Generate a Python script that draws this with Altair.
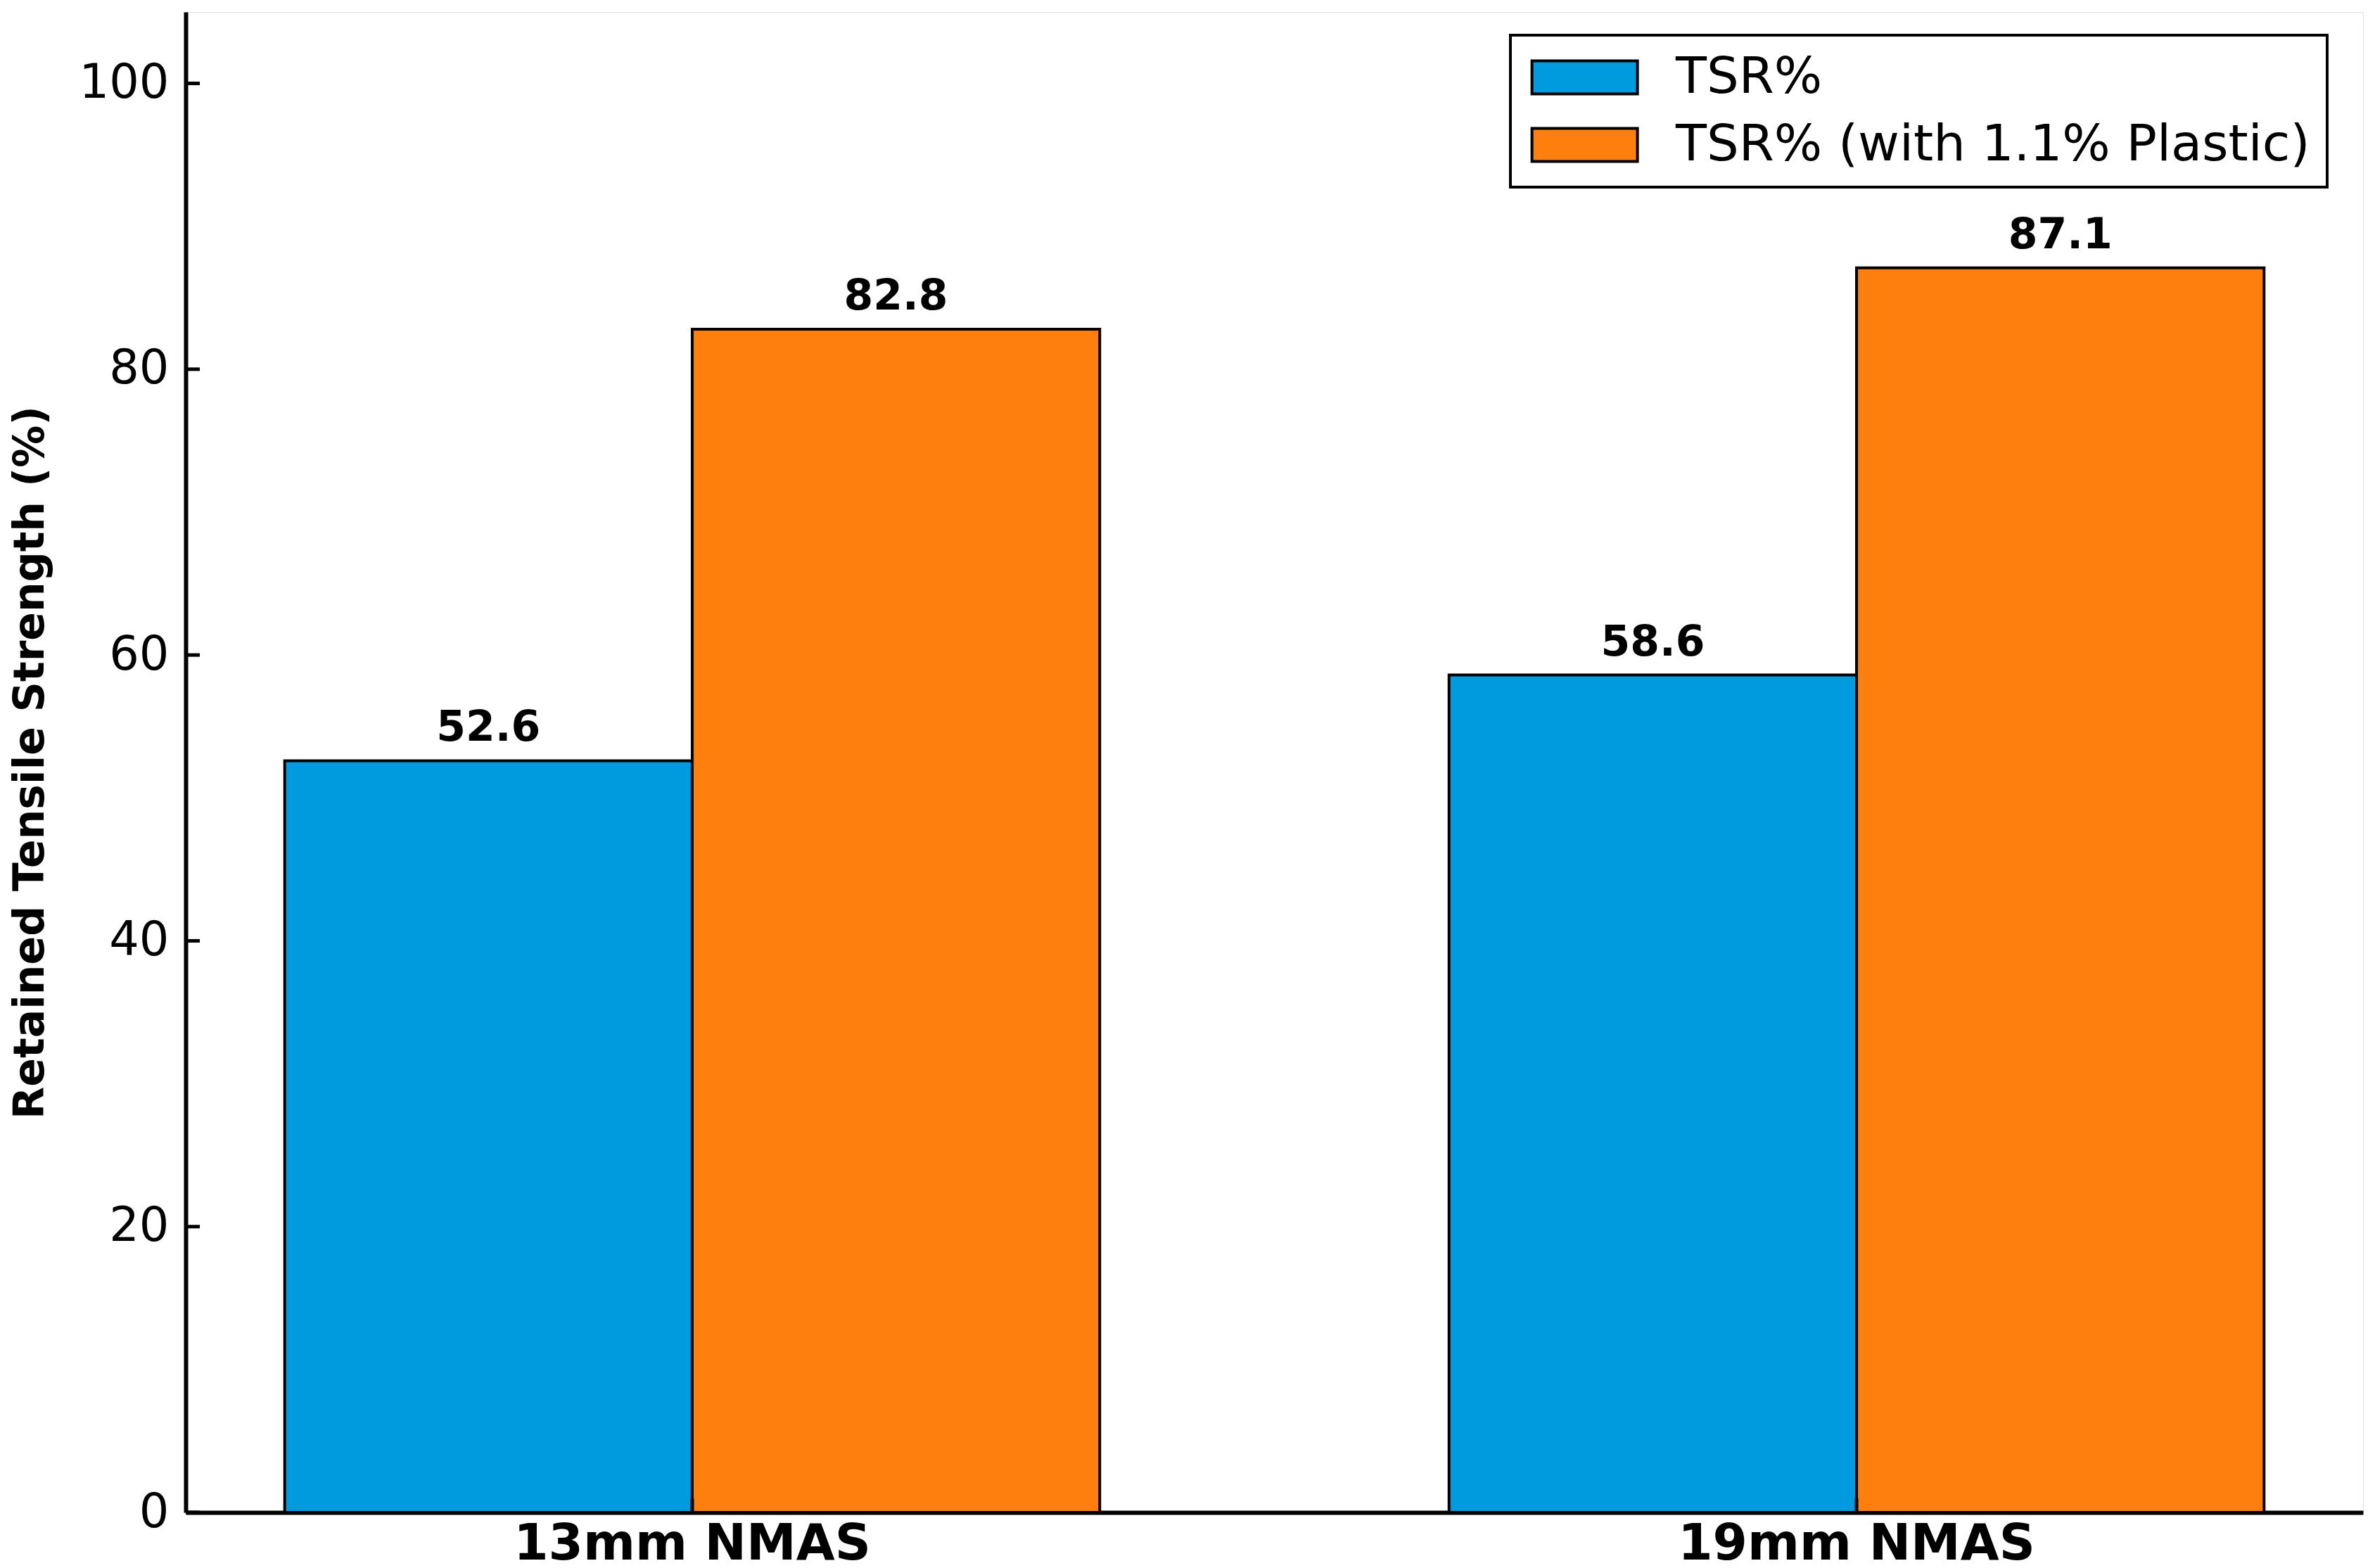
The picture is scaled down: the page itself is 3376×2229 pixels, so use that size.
import altair as alt
import pandas as pd

categories = ["13mm NMAS", "19mm NMAS"]
series_names = ["TSR%", "TSR% (with 1.1% Plastic)"]
tsr = [52.6, 58.6]
tsr_plastic = [82.8, 87.1]
y_ticks = [0, 20, 40, 60, 80, 100]
colors = ["#009ADE", "#FF7F0E"]

rows = []
for i, c in enumerate(categories):
    for s, vals in zip(series_names, [tsr, tsr_plastic]):
        rows.append({"cat": c, "series": s, "value": vals[i], "label": f"{vals[i]:.1f}"})
df = pd.DataFrame(rows)
yt_df = pd.DataFrame({"value": y_ticks})
xt_df = pd.DataFrame({"cat": categories})

W, H = 3095, 2133
FONT = "DejaVu Sans"

x_enc = alt.X(
    "cat:N", sort=categories,
    scale=alt.Scale(paddingInner=0.3, paddingOuter=0.085),
    axis=alt.Axis(title=None, labelAngle=0, labelFont=FONT, labelFontSize=71,
                  labelFontWeight="bold", labelColor="black", ticks=False,
                  labelLimit=2000,
                  domain=True, domainColor="black", domainWidth=6, labelPadding=10),
)
xoff = alt.XOffset("series:N", sort=series_names,
                   scale=alt.Scale(paddingInner=0, paddingOuter=0))
y_enc = alt.Y(
    "value:Q", scale=alt.Scale(domain=[0, 105], nice=False),
    axis=alt.Axis(values=y_ticks, title="Retained Tensile Strength (%)",
                  titleFont=FONT, titleFontSize=60, titleFontWeight="bold",
                  titleColor="black", titlePadding=38,
                  labelFont=FONT, labelFontSize=67, labelColor="black",
                  labelPadding=24, ticks=False, grid=False,
                  domainColor="black", domainWidth=6),
)
color = alt.Color(
    "series:N", sort=series_names,
    scale=alt.Scale(domain=series_names, range=colors),
    legend=alt.Legend(
        title=None, orient="none", legendX=1883, legendY=33,
        symbolType="M-1.25,-1L5.133,-1L5.133,1L-1.25,1Z", symbolSize=2209,
        symbolStrokeColor="black", symbolStrokeWidth=4, symbolOpacity=1,
        labelFont=FONT, labelFontSize=72, labelColor="black",
        labelOffset=139, rowPadding=24, padding=24,
        fillColor="white", strokeColor="black", cornerRadius=0,
        labelLimit=2000,
    ),
)

bars = alt.Chart(df).mark_bar(stroke="black", strokeWidth=4, opacity=1).encode(
    x=x_enc, xOffset=xoff, y=y_enc, color=color
)
labels = alt.Chart(df).mark_text(
    font=FONT, fontSize=60, fontWeight="bold", color="black",
    baseline="alphabetic", dy=-28
).encode(x=x_enc, xOffset=xoff, y=y_enc, text="label:N")

yticks = alt.Chart(yt_df).mark_rule(color="black", strokeWidth=5).encode(
    y=y_enc, x=alt.value(0), x2=alt.value(20)
)
xticks = alt.Chart(xt_df).mark_rule(color="black", strokeWidth=5).encode(
    x=x_enc, y=alt.value(H), y2=alt.value(H - 20)
)

chart = alt.layer(bars, labels, yticks, xticks).properties(
    width=W, height=H,
    padding={"left": 5, "top": 9, "right": 5, "bottom": 5},
).configure_view(stroke=None).configure(background="white").configure_legend(
    strokeWidth=4
)

chart.save("out.html", embed_options={"renderer": "svg", "actions": False})
